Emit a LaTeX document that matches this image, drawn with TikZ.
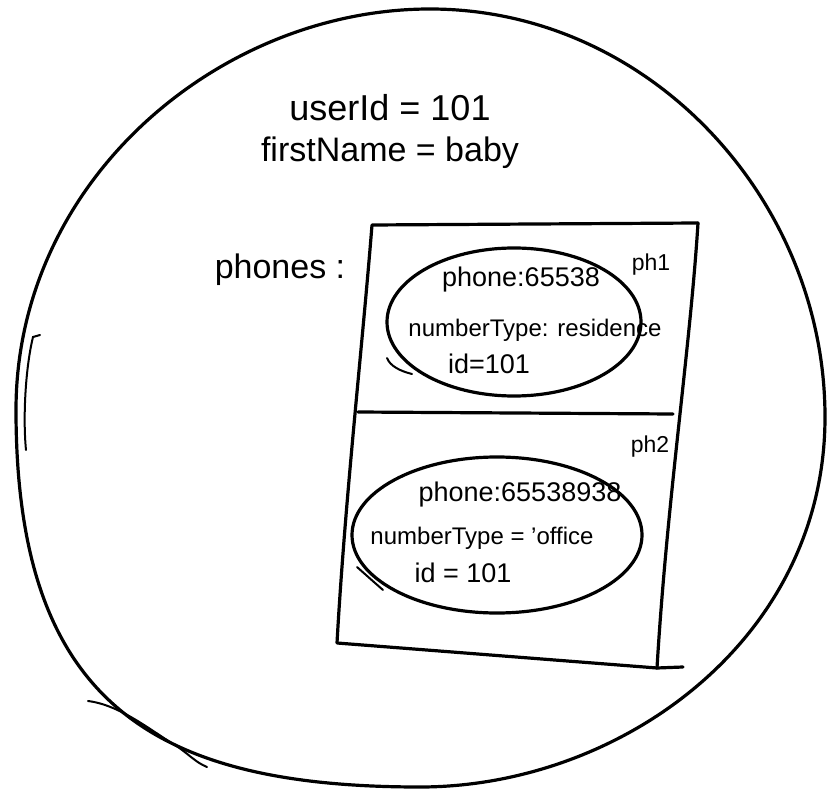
\documentclass[tikz,border=0pt]{standalone}
\usepackage{fontspec}
\setmainfont{Liberation Sans}
\usetikzlibrary{shapes.geometric}
\begin{document}
\begin{tikzpicture}[x=1pt,y=-1pt,
  pen/.style={line width=3.2pt,line cap=round,line join=round},
  thinpen/.style={line width=2pt,line cap=round},
  big/.style={font=\fontsize{34}{38}\selectfont},
  mid/.style={font=\fontsize{27}{30}\selectfont},
  small/.style={font=\fontsize{24}{28}\selectfont},
  tag/.style={font=\fontsize{23}{26}\selectfont},
  lbl/.style={inner sep=0pt}]
\useasboundingbox (0,0) rectangle (835,799);
\fill[white] (0,0) rectangle (835,799);
% outer circle (hand drawn)
\coordinate (ct) at (430,9);
\coordinate (cr) at (825,417);
\coordinate (cb) at (420,787);
\coordinate (cl) at (16,410);
\draw[pen] (ct) .. controls (650,9) and (825,200) .. (cr)
  .. controls (825,640) and (620,787) .. (cb)
  .. controls (150,787) and (16,700) .. (cl)
  .. controls (16,180) and (220,9) .. (ct) -- cycle;
% extra sketch strokes on the circle
\coordinate (s1a) at (40,335);
\coordinate (s1b) at (33,337);
\coordinate (s1c) at (26,450);
\draw[thinpen] (s1a) -- (s1b) .. controls (25,370) and (23,420) .. (s1c);
\coordinate (s2a) at (88,701);
\coordinate (s2b) at (207,767);
\draw[thinpen] (s2a) .. controls (120,705) and (150,730) .. (175,745) .. controls (190,755) and (195,762) .. (s2b);
% phone list box
\coordinate (tl) at (372,225);
\coordinate (tr) at (698,223);
\coordinate (br) at (657,668);
\coordinate (bl) at (337,643);
\coordinate (bx) at (683,667);
\draw[pen] (tr) .. controls (690,350) and (667,500) .. (br) -- (bx);
\draw[pen] (br) -- (bl) .. controls (345,500) and (362,350) .. (tl) -- (tr);
\coordinate (dl) at (358,412);
\coordinate (dr) at (673,414);
\draw[pen] (dl) -- (dr);
% ellipses
\node[draw,pen,ellipse,minimum width=254pt,minimum height=148pt] (e1) at (514,322) {};
\node[draw,pen,ellipse,minimum width=290pt,minimum height=156pt] (e2) at (497,535) {};
\coordinate (e1a) at (387,358);
\coordinate (e1b) at (412,374);
\draw[thinpen] (e1a) .. controls (390,366) and (400,371) .. (e1b);
\coordinate (e2a) at (357,567);
\coordinate (e2b) at (383,590);
\draw[thinpen] (e2a) .. controls (366,575) and (375,583) .. (e2b);
% texts
\node[lbl,font=\fontsize{36}{40}\selectfont] (uid) at (390,108) {userId = 101};
\node[lbl,big] (fn) at (390,153) {firstName = baby};
\node[lbl,big] (ph) at (280,270) {phones :};
\node[lbl,tag] (p1) at (651,265) {ph1};
\node[lbl,mid] (a1) at (521,280) {phone:65538};
\node[lbl,small] (b1) at (535,330) {numberType: residence};
\node[lbl,mid] (c1) at (489,364) {id=101};
\node[lbl,tag] (p2) at (650,447) {ph2};
\node[lbl,mid] (a2) at (520,495) {phone:65538938};
\node[lbl,small] (b2) at (482,538) {numberType = 'office};
\node[lbl,mid] (c2) at (463,573) {id = 101};
\end{tikzpicture}
\end{document}
